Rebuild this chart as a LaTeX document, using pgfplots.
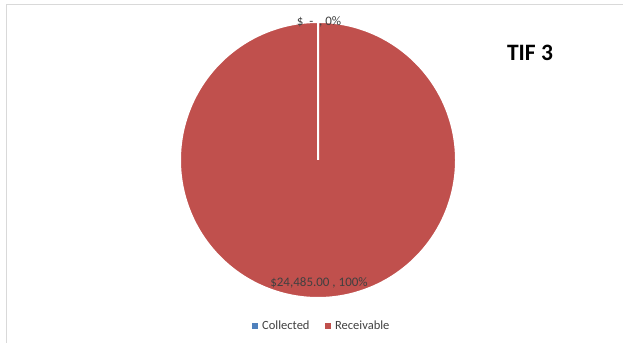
\documentclass[border=0pt]{standalone}
\usepackage{pgfplots}
\usepackage{pgfplotstable}
\pgfplotsset{compat=1.18}
\usepackage{fontspec}
\setmainfont{Carlito}
\definecolor{colA}{HTML}{4F81BD}
\definecolor{colB}{HTML}{C0504D}
\definecolor{lbl}{HTML}{404040}
\definecolor{brd}{HTML}{D9D9D9}
\pgfplotstableread{
label value
Collected 0
Receivable 24485
}\piedata
\begin{document}
\begin{tikzpicture}
\pgfplotstablegetelem{0}{value}\of\piedata \let\vA\pgfplotsretval
\pgfplotstablegetelem{1}{value}\of\piedata \let\vB\pgfplotsretval
\edef\aA{\fpeval{360*\vA/(\vA+\vB)}}
\edef\aB{\fpeval{360*\vB/(\vA+\vB)}}
\edef\sB{\fpeval{90-\aA-\aB}}
\edef\eB{\fpeval{90-\aA}}
\begin{axis}[
  scale only axis, width=624pt, height=343pt,
  xmin=0, xmax=624, ymin=0, ymax=343,
  hide axis, clip=false,
  legend columns=2,
  legend style={at={(axis cs:322,17)}, anchor=center, draw=none, fill=none,
    font=\fontsize{12.5}{14}\selectfont\color{lbl},
    /tikz/every odd column/.append style={column sep=3pt},
    /tikz/every even column/.append style={column sep=14pt}},
  legend cell align=left,
]
\coordinate (bl) at (axis cs:0,0);
\coordinate (tr) at (axis cs:624,343);
\draw[brd, line width=1pt] (axis cs:6,0) -- (axis cs:6,338) -- (axis cs:623,338);
\addlegendimage{only marks, mark=square*, mark size=2.3pt, color=colA}
\addlegendentry{Collected}
\addlegendimage{only marks, mark=square*, mark size=2.3pt, color=colB}
\addlegendentry{Receivable}
\addplot[fill=colB, draw=white, line width=2pt, domain=\sB:\eB, samples=361, forget plot]
  ({318+138*cos(x)},{183+138*sin(x)}) -- (axis cs:318,183) -- cycle;
\node[font=\fontsize{13}{15}\selectfont, text=lbl] at (axis cs:319,321) {\$ \ - \ , 0\%};
\node[font=\fontsize{13}{15}\selectfont, text=lbl] at (axis cs:319,60) {\$24,485.00 , 100\%};
\node[font=\fontsize{23.5}{26}\selectfont\bfseries] at (axis cs:530,290) {TIF 3};
\end{axis}
\pgfresetboundingbox
\useasboundingbox (bl) rectangle (tr);
\end{tikzpicture}
\end{document}
